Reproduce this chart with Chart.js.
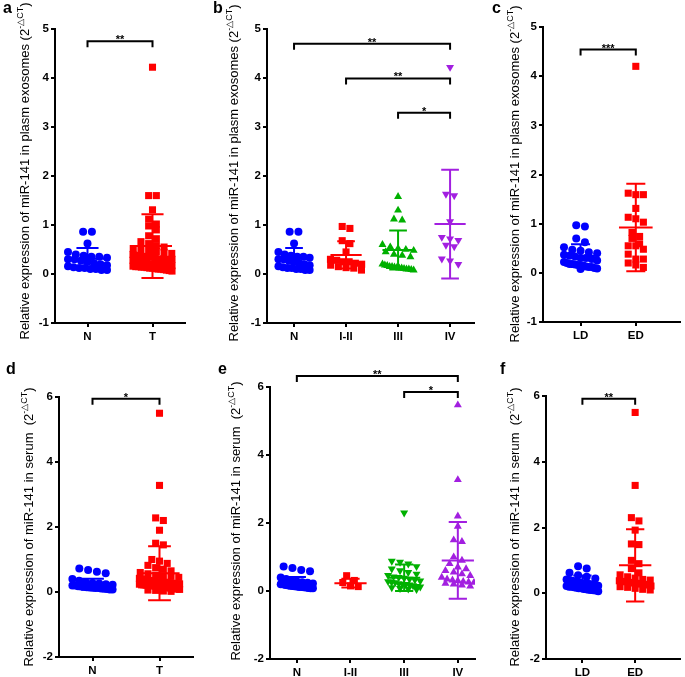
<!DOCTYPE html>
<html><head><meta charset="utf-8">
<script src="https://cdn.jsdelivr.net/npm/chart.js@4.4.0/dist/chart.umd.min.js"></script>
<style>
html,body{margin:0;padding:0;background:#fff;width:685px;height:677px;overflow:hidden;position:relative}
canvas{position:absolute}
</style></head><body>
<script>
// ---------- DATA ----------
const catsNT = ['N', 'T'];
const catsStage = ['N', 'I-II', 'III', 'IV'];
const catsLDED = ['LD', 'ED'];
const ticksPlasma = [-1, 0, 1, 2, 3, 4, 5];
const ticksSerum = [-2, 0, 2, 4, 6];

// panel a (plasma exosomes, N vs T)
const aN = [0.86,0.86,0.62,0.45,0.40,0.37,0.35,0.35,0.33,0.30,0.30,0.27,0.25,0.22,0.20,0.18,0.16,0.14,0.12,0.12,0.10,0.10,0.08,0.08];
const aT = [4.22,1.60,1.60,1.31,1.12,1.02,0.98,0.90,0.78,0.72,0.66,0.62,0.58,0.55,0.52,0.50,0.48,0.46,0.44,0.42,0.40,0.38,0.36,0.35,0.33,0.31,0.30,0.28,0.27,0.25,0.24,0.22,0.21,0.20,0.19,0.18,0.18,0.17,0.16,0.15,0.15,0.14,0.13,0.12,0.12,0.11,0.10,0.10,0.09,0.08,0.07,0.06,0.20,0.25,0.30,0.17,0.14,0.19];
const aMean = [0.31, 0.57];
const aSD = [0.22, 0.65];

// panel b (plasma exosomes, stages)
const bN = [0.86,0.86,0.62,0.45,0.40,0.37,0.35,0.35,0.33,0.30,0.30,0.27,0.25,0.22,0.20,0.18,0.16,0.14,0.12,0.12,0.10,0.10,0.08,0.08];
const bI_II = [0.97,0.93,0.68,0.62,0.45,0.30,0.28,0.25,0.25,0.22,0.20,0.18,0.15,0.13,0.12,0.08];
const bIII = [1.58,1.30,1.12,1.10,0.60,0.55,0.52,0.50,0.48,0.45,0.40,0.38,0.35,0.20,0.18,0.17,0.15,0.15,0.14,0.13,0.12,0.12,0.11,0.10,0.10,0.09,0.08];
const bIV = [4.22,1.63,1.60,1.07,0.75,0.72,0.69,0.59,0.56,0.31,0.27,0.20];
const bMean = [0.31, 0.39, 0.49, 1.02];
const bSD = [0.22, 0.28, 0.40, 1.11];

// panel c (plasma exosomes, LD vs ED)
const cLD = [0.97,0.94,0.70,0.62,0.52,0.47,0.45,0.42,0.40,0.37,0.35,0.33,0.30,0.30,0.28,0.25,0.22,0.20,0.18,0.18,0.17,0.16,0.15,0.15,0.13,0.12,0.12,0.10,0.09,0.08];
const cED = [4.20,1.62,1.59,1.59,1.31,1.13,1.10,1.03,0.82,0.74,0.70,0.59,0.55,0.55,0.48,0.38,0.28,0.28,0.20,0.16,0.11];
const cMean = [0.35, 0.92];
const cSD = [0.23, 0.89];

// panel d (serum, N vs T)
const dN = [0.72,0.68,0.62,0.58,0.40,0.35,0.30,0.28,0.26,0.24,0.22,0.20,0.20,0.18,0.17,0.16,0.15,0.14,0.13,0.12,0.12,0.11,0.10,0.09,0.08,0.08];
const dT = [5.50,3.28,2.28,2.20,1.90,1.50,1.45,1.00,0.95,0.88,0.82,0.75,0.70,0.65,0.60,0.56,0.52,0.50,0.48,0.45,0.42,0.40,0.38,0.36,0.35,0.34,0.32,0.30,0.30,0.28,0.27,0.26,0.25,0.24,0.22,0.21,0.20,0.20,0.19,0.18,0.17,0.16,0.15,0.14,0.13,0.12,0.11,0.10,0.09,0.08,0.06,0.05,0.03,0.02,0.25,0.30,0.35,0.18,0.22,0.28];
const dMean = [0.24, 0.58];
const dSD = [0.17, 0.83];

// panel e (serum, stages)
const eN = [0.72,0.68,0.62,0.58,0.40,0.35,0.30,0.28,0.26,0.24,0.22,0.20,0.20,0.18,0.17,0.16,0.15,0.14,0.13,0.12,0.12,0.11,0.10,0.09,0.08,0.08];
const eI_II = [0.45,0.31,0.25,0.15,0.13];
const eIII = [2.30,0.88,0.85,0.80,0.72,0.65,0.60,0.55,0.50,0.46,0.42,0.40,0.38,0.35,0.33,0.30,0.28,0.26,0.25,0.22,0.20,0.20,0.18,0.16,0.14,0.12,0.10,0.08,0.06,0.05];
const eIV = [5.47,3.27,2.20,1.90,1.50,1.45,1.00,0.90,0.80,0.70,0.65,0.60,0.55,0.50,0.45,0.40,0.35,0.32,0.30,0.28,0.26,0.25,0.22,0.20,0.17,0.14];
const eMean = [0.24, 0.23, 0.39, 0.90];
const eSD = [0.17, 0.13, 0.39, 1.13];

// panel f (serum, LD vs ED)
const fLD = [0.82,0.75,0.62,0.55,0.50,0.45,0.42,0.40,0.38,0.36,0.34,0.32,0.30,0.30,0.28,0.26,0.25,0.23,0.22,0.20,0.20,0.18,0.17,0.15,0.15,0.13,0.12,0.11,0.10,0.09,0.08,0.06];
const fED = [5.50,3.28,2.30,2.20,1.92,1.50,1.48,1.00,0.90,0.75,0.62,0.56,0.50,0.46,0.42,0.40,0.38,0.36,0.35,0.33,0.32,0.30,0.30,0.28,0.27,0.25,0.22,0.20,0.18,0.15,0.12,0.10];
const fMean = [0.32, 0.85];
const fSD = [0.22, 1.10];

// significance brackets: [fromIndex, toIndex, yValue, label]
const aSig = [[0, 1, 4.75, '**']];
const bSig = [[0, 3, 4.70, '**'], [1, 3, 3.99, '**'], [2, 3, 3.29, '*']];
const cSig = [[0, 1, 4.54, '***']];
const dSig = [[0, 1, 5.95, '*']];
const eSig = [[0, 3, 6.32, '**'], [2, 3, 5.85, '*']];
const fSig = [[0, 1, 5.92, '**']];

const titlePlasma = 'Relative expression of miR-141 in plasm exosomes (2';
const titleSerum = 'Relative expression of miR-141 in serum  (2';
const titleSup = '-\u25B3CT';

// ---------- STYLE / LAYOUT ----------
const FONT = '"Liberation Sans", Arial, Helvetica, sans-serif';
const BLUE = '#0000ff', RED = '#ff0000', GREEN = '#00b000', PURPLE = '#a21fe0';
const STY = {
  circle: {pointStyle: 'circle', radius: 4, rotation: 0, px: 8},
  square: {pointStyle: 'rect', radius: 5, rotation: 0, px: 7},
  up:     {pointStyle: 'triangle', radius: 4.6, rotation: 0, px: 7.5},
  down:   {pointStyle: 'triangle', radius: 4.6, rotation: 180, px: 7.5}
};

const panels = [
  {letter: 'a', letterPos: [3, 13], box: [0, 0, 205, 345], area: [55, 29, 185, 323], x: [-0.5, 1.5],
   y: [-1, 5], ticks: ticksPlasma, cats: catsNT, title: titlePlasma, titlePos: [25, 171],
   groups: [[aN, BLUE, 'circle'], [aT, RED, 'square']], mean: aMean, sd: aSD, sig: aSig},
  {letter: 'b', letterPos: [213, 13], box: [205, 0, 275, 345], area: [267, 29, 474, 323], x: [-0.52, 3.46],
   y: [-1, 5], ticks: ticksPlasma, cats: catsStage, title: titlePlasma, titlePos: [234, 173],
   groups: [[bN, BLUE, 'circle'], [bI_II, RED, 'square'], [bIII, GREEN, 'up'], [bIV, PURPLE, 'down']], mean: bMean, sd: bSD, sig: bSig},
  {letter: 'c', letterPos: [492, 13], box: [480, 0, 205, 345], area: [543, 27, 682, 322], x: [-0.68, 1.8],
   y: [-1, 5], ticks: ticksPlasma, cats: catsLDED, title: titlePlasma, titlePos: [515, 174],
   groups: [[cLD, BLUE, 'circle'], [cED, RED, 'square']], mean: cMean, sd: cSD, sig: cSig},
  {letter: 'd', letterPos: [6, 374], box: [0, 345, 205, 332], area: [59, 397, 193, 657], x: [-0.5, 1.5],
   y: [-2, 6], ticks: ticksSerum, cats: catsNT, title: titleSerum, titlePos: [29, 527],
   groups: [[dN, BLUE, 'circle'], [dT, RED, 'square']], mean: dMean, sd: dSD, sig: dSig},
  {letter: 'e', letterPos: [218, 374], box: [205, 345, 275, 332], area: [270, 387, 475, 659], x: [-0.5, 3.32],
   y: [-2, 6], ticks: ticksSerum, cats: catsStage, title: titleSerum, titlePos: [236, 521],
   groups: [[eN, BLUE, 'circle'], [eI_II, RED, 'square'], [eIII, GREEN, 'down'], [eIV, PURPLE, 'up']], mean: eMean, sd: eSD, sig: eSig},
  {letter: 'f', letterPos: [500, 374], box: [480, 345, 205, 332], area: [546, 396, 683, 659], x: [-0.69, 1.85],
   y: [-2, 6], ticks: ticksSerum, cats: catsLDED, title: titleSerum, titlePos: [515, 527],
   groups: [[fLD, BLUE, 'circle'], [fED, RED, 'square']], mean: fMean, sd: fSD, sig: fSig}
];

const Y_AXIS_W = 30, X_AXIS_H = 18;

// row-based scatter spreading (GraphPad-like), offsets in x data units
function spread(values, pxPerX, pxPerY, markerPx, maxHalfPx) {
  const idx = values.map((v, i) => i).sort((p, q) => values[q] - values[p]);
  const off = new Array(values.length).fill(0);
  let k = 0;
  while (k < idx.length) {
    const start = values[idx[k]];
    const row = [];
    while (k < idx.length && (start - values[idx[k]]) * pxPerY < markerPx * 0.8) { row.push(idx[k]); k++; }
    const n = row.length;
    const step = n > 1 ? Math.min(markerPx * 1.1, (2 * maxHalfPx) / (n - 1)) : 0;
    row.forEach((id, j) => { off[id] = ((j - (n - 1) / 2) * step) / pxPerX; });
  }
  return off;
}

function makeChart(p) {
  const [bx, by, bw, bh] = p.box;
  const [al, at, ar, ab] = p.area;
  const cv = document.createElement('canvas');
  cv.width = bw; cv.height = bh;
  cv.style.left = bx + 'px'; cv.style.top = by + 'px';
  cv.style.width = bw + 'px'; cv.style.height = bh + 'px';
  document.body.appendChild(cv);

  const pxPerX = (ar - al) / (p.x[1] - p.x[0]);
  const pxPerY = (ab - at) / (p.y[1] - p.y[0]);
  const maxHalf = 0.3 * pxPerX;

  const datasets = p.groups.map((g, i) => {
    const [vals, color, sname] = g;
    const s = STY[sname];
    const off = spread(vals, pxPerX, pxPerY, s.px, maxHalf);
    return {
      data: vals.map((v, k) => ({x: i + off[k], y: v})),
      pointStyle: s.pointStyle, rotation: s.rotation,
      pointRadius: s.radius, pointHoverRadius: s.radius,
      backgroundColor: color, borderColor: color, borderWidth: 0,
      showLine: false
    };
  });

  const overlay = {
    id: 'overlay',
    afterDatasetsDraw(chart) {
      const ctx = chart.ctx, xs = chart.scales.x, ys = chart.scales.y;
      ctx.save();
      ctx.lineWidth = 2;
      // mean +/- SD
      p.groups.forEach((g, i) => {
        const color = g[1];
        const m = p.mean[i], sd = p.sd[i];
        ctx.strokeStyle = color;
        const cx = xs.getPixelForValue(i);
        const yM = ys.getPixelForValue(m), yT = ys.getPixelForValue(m + sd), yB = ys.getPixelForValue(m - sd);
        const mh = 0.3 * pxPerX, ch = 0.17 * pxPerX;
        ctx.beginPath();
        ctx.moveTo(cx - mh, yM); ctx.lineTo(cx + mh, yM);
        ctx.moveTo(cx, yT); ctx.lineTo(cx, yB);
        ctx.moveTo(cx - ch, yT); ctx.lineTo(cx + ch, yT);
        ctx.moveTo(cx - ch, yB); ctx.lineTo(cx + ch, yB);
        ctx.stroke();
      });
      // brackets
      ctx.strokeStyle = '#000';
      ctx.fillStyle = '#000';
      ctx.font = 'bold 11px ' + FONT;
      ctx.textAlign = 'center';
      ctx.textBaseline = 'alphabetic';
      p.sig.forEach(s => {
        const x1 = xs.getPixelForValue(s[0]), x2 = xs.getPixelForValue(s[1]);
        const y = ys.getPixelForValue(s[2]);
        ctx.beginPath();
        ctx.moveTo(x1, y + 6); ctx.lineTo(x1, y); ctx.lineTo(x2, y); ctx.lineTo(x2, y + 6);
        ctx.stroke();
        ctx.fillText(s[3], (x1 + x2) / 2, y + 2);
      });
      ctx.restore();
    },
    afterDraw(chart) {
      const ctx = chart.ctx;
      ctx.save();
      ctx.fillStyle = '#000';
      // panel letter
      ctx.font = 'bold 16px ' + FONT;
      ctx.textAlign = 'left';
      ctx.textBaseline = 'alphabetic';
      ctx.fillText(p.letter, p.letterPos[0] - bx, p.letterPos[1] - by);
      // rotated y title with superscript
      const mainF = '13px ' + FONT, supF = '9px ' + FONT;
      ctx.font = mainF; const w1 = ctx.measureText(p.title).width; const w3 = ctx.measureText(')').width;
      ctx.font = supF; const w2 = ctx.measureText(titleSup).width;
      const tot = w1 + w2 + w3;
      ctx.translate(p.titlePos[0] - bx, p.titlePos[1] - by);
      ctx.rotate(-Math.PI / 2);
      ctx.textBaseline = 'middle';
      let x = -tot / 2;
      ctx.font = mainF; ctx.fillText(p.title, x, 0); x += w1;
      ctx.font = supF; ctx.fillText(titleSup, x, -4.5); x += w2;
      ctx.font = mainF; ctx.fillText(')', x, 0);
      ctx.restore();
    }
  };

  new Chart(cv, {
    type: 'scatter',
    data: {datasets},
    options: {
      responsive: false, animation: false, devicePixelRatio: 1,
      events: [],
      layout: {padding: {left: al - bx - Y_AXIS_W, top: at - by, right: bx + bw - ar, bottom: by + bh - ab - X_AXIS_H}},
      plugins: {legend: {display: false}, tooltip: {enabled: false}},
      scales: {
        x: {
          type: 'linear', min: p.x[0], max: p.x[1],
          afterBuildTicks: s => { s.ticks = p.cats.map((c, i) => ({value: i})); },
          afterFit: s => { s.height = X_AXIS_H; },
          ticks: {autoSkip: false, maxRotation: 0, padding: 3, color: '#000',
                  font: {family: FONT, size: 11.5, weight: 'bold'},
                  callback: v => p.cats[Math.round(v)]},
          grid: {display: true, drawOnChartArea: false, drawTicks: true, tickLength: 4, color: '#000', lineWidth: 2},
          border: {display: true, color: '#000', width: 2}
        },
        y: {
          type: 'linear', min: p.y[0], max: p.y[1],
          afterBuildTicks: s => { s.ticks = p.ticks.map(v => ({value: v})); },
          afterFit: s => { s.width = Y_AXIS_W; },
          ticks: {padding: 2, color: '#000', font: {family: FONT, size: 11.5, weight: 'bold'}},
          grid: {display: true, drawOnChartArea: false, drawTicks: true, tickLength: 4, color: '#000', lineWidth: 2},
          border: {display: true, color: '#000', width: 2}
        }
      }
    },
    plugins: [overlay]
  });
}

panels.forEach(makeChart);
</script>
</body></html>
